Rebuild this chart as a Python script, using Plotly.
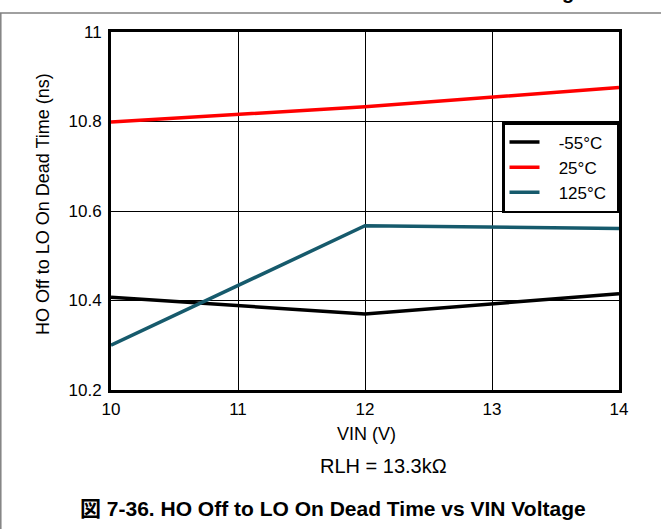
"""HO Off to LO On dead time vs VIN, three temperatures."""

import plotly.graph_objects as go

VIN = [10, 12, 14]
SERIES_NAMES = ["-55°C", "25°C", "125°C"]
DEAD_TIME = {
    "-55°C": [10.407, 10.370, 10.415],
    "25°C": [10.799, 10.833, 10.876],
    "125°C": [10.300, 10.567, 10.561],
}
SERIES_COLORS = {
    "-55°C": "#000000",
    "25°C": "#FF0000",
    "125°C": "#165A6C",
}
X_TICKS = [10, 11, 12, 13, 14]
Y_TICKS = [10.2, 10.4, 10.6, 10.8, 11]
Y_TICK_TEXT = ["10.2", "10.4", "10.6", "10.8", "11"]

FONT = "Arial, Liberation Sans, sans-serif"

# plot area in pixels on the 661x529 page
L, R, T, B = 111, 619, 32, 390
W, H = 661, 529


def px_x(px):
    return (px - L) / (R - L)


def px_y(py):
    return (B - py) / (B - T)


fig = go.Figure()
for name in SERIES_NAMES:
    fig.add_trace(
        go.Scatter(
            x=VIN,
            y=DEAD_TIME[name],
            # a little padding so the legend text sits further from the line sample
            name="\u00a0\u00a0\u00a0" + name + "\u00a0",
            mode="lines",
            line=dict(color=SERIES_COLORS[name], width=3.5),
        )
    )

axis_common = dict(
    showline=True,
    linecolor="black",
    linewidth=3,
    mirror=True,
    showgrid=True,
    gridcolor="black",
    gridwidth=1,
    zeroline=False,
    ticks="",
    tickfont=dict(family=FONT, size=17, color="black"),
)

fig.update_xaxes(
    range=[10, 14],
    tickvals=X_TICKS,
    ticklabelstandoff=2,
    **axis_common,
)
fig.update_yaxes(
    range=[10.2, 11],
    tickvals=Y_TICKS,
    ticktext=Y_TICK_TEXT,
    ticklabelstandoff=3,
    **axis_common,
)

annotations = [
    dict(text="HO Off to LO On Dead Time (ns)", x=px_x(43), y=px_y(204), textangle=-90,
         font=dict(size=18)),
    dict(text="VIN (V)", x=px_x(366), y=px_y(434), font=dict(size=18)),
    dict(text="RLH = 13.3kΩ", x=px_x(383), y=px_y(466), font=dict(size=20)),
    dict(text="<b>図 7-36. HO Off to LO On Dead Time vs VIN Voltage</b>",
         x=px_x(333), y=px_y(508),
         font=dict(size=21, family="Arial, Liberation Sans, Noto Sans CJK JP")),
    dict(text="<b>g</b>", x=px_x(568), y=px_y(-8), font=dict(size=20)),
]
for a in annotations:
    a.update(xref="paper", yref="paper", showarrow=False,
             xanchor="center", yanchor="middle")
    a["font"].setdefault("family", FONT)
    a["font"]["color"] = "black"

frame = dict(color="#808080", width=1.5)
fig.update_layout(
    width=W,
    height=H,
    margin=dict(l=L, r=W - R, t=T, b=H - B),
    paper_bgcolor="white",
    plot_bgcolor="white",
    font=dict(family=FONT, color="black"),
    showlegend=True,
    legend=dict(
        x=1,
        xanchor="right",
        y=px_y(122),
        yanchor="top",
        bordercolor="black",
        borderwidth=2.5,
        bgcolor="white",
        font=dict(family=FONT, size=17, color="black"),
        tracegroupgap=0,
        itemwidth=30,
    ),
    annotations=annotations,
    shapes=[
        dict(type="line", xref="paper", yref="paper", x0=px_x(0), x1=px_x(W),
             y0=px_y(13), y1=px_y(13), line=frame),
        dict(type="line", xref="paper", yref="paper", x0=px_x(0.8), x1=px_x(0.8),
             y0=px_y(13), y1=px_y(H), line=frame),
    ],
)

# drop the browser's default body margin so the figure sits at the page corner
fig.write_html(
    "out.html",
    config={"displayModeBar": False},
    post_script="document.body.style.margin='0';",
)
